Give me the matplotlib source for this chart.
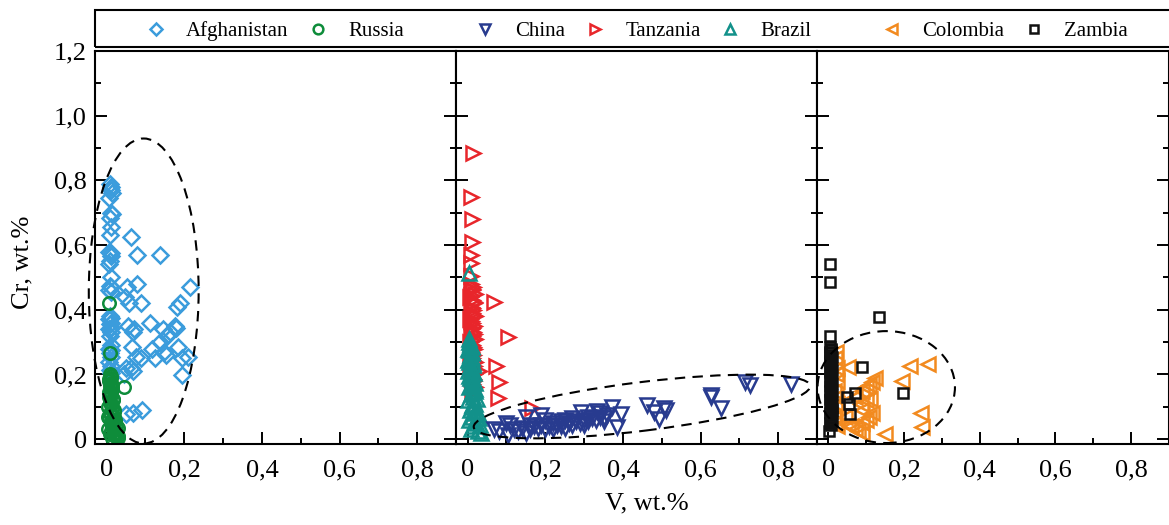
import numpy as np
import matplotlib.pyplot as plt
from matplotlib.patches import Ellipse, Rectangle
from matplotlib.lines import Line2D
from matplotlib.ticker import MultipleLocator, FuncFormatter

plt.rcParams['font.family'] = ['Liberation Serif', 'DejaVu Serif']

# ---- data (V, Cr in wt.%) ----
afg_v = [0.008, 0.012, 0.010, 0.014, 0.006, 0.010, 0.014, 0.008, 0.012, 0.008,
         0.006, 0.010, 0.012, 0.008, 0.006, 0.010, 0.008, 0.012, 0.006, 0.010,
         0.008, 0.012, 0.006, 0.010, 0.008, 0.012, 0.006, 0.010, 0.008, 0.010,
         0.006, 0.012, 0.008, 0.010, 0.006, 0.012, 0.008, 0.010,
         0.064, 0.077, 0.137, 0.052, 0.077, 0.046, 0.057, 0.088, 0.214, 0.190,
         0.180, 0.111, 0.054, 0.070, 0.068, 0.146, 0.175, 0.156, 0.164, 0.178,
         0.137, 0.118, 0.066, 0.147, 0.152, 0.124, 0.183, 0.195, 0.209, 0.088,
         0.075, 0.049, 0.062, 0.069, 0.044, 0.195, 0.049, 0.069, 0.090]
afg_cr = [0.79, 0.78, 0.77, 0.76, 0.745, 0.70, 0.695, 0.685, 0.655, 0.63,
          0.58, 0.575, 0.565, 0.55, 0.54, 0.50, 0.475, 0.47, 0.46, 0.455,
          0.38, 0.375, 0.37, 0.36, 0.355, 0.345, 0.34, 0.33, 0.32, 0.29,
          0.28, 0.275, 0.265, 0.255, 0.24, 0.225, 0.215, 0.205,
          0.625, 0.57, 0.57, 0.47, 0.48, 0.44, 0.42, 0.42, 0.47, 0.42,
          0.41, 0.36, 0.35, 0.34, 0.33, 0.34, 0.35, 0.32, 0.33, 0.345,
          0.30, 0.28, 0.285, 0.27, 0.26, 0.25, 0.285, 0.25, 0.255, 0.25,
          0.255, 0.22, 0.22, 0.21, 0.20, 0.198, 0.078, 0.08, 0.09]

rus_v = [0.005, 0.008, 0.044, 0.008, 0.012, 0.006, 0.010, 0.014, 0.008, 0.012,
         0.006, 0.016, 0.010, 0.004, 0.014, 0.018, 0.008, 0.012, 0.020, 0.006,
         0.016, 0.022, 0.010, 0.025, 0.014, 0.028, 0.004, 0.020, 0.012, 0.026,
         0.008, 0.018, 0.030, 0.015,
         0.010, 0.006, 0.012, 0.008, 0.014, 0.006, 0.010, 0.016, 0.008, 0.012,
         0.018, 0.022, 0.004, 0.024, 0.016, 0.020, 0.026, 0.028, 0.010, 0.022]
rus_cr = [0.42, 0.265, 0.16, 0.20, 0.19, 0.18, 0.17, 0.16, 0.15, 0.14,
          0.13, 0.12, 0.11, 0.10, 0.095, 0.09, 0.08, 0.075, 0.07, 0.065,
          0.06, 0.055, 0.05, 0.045, 0.04, 0.035, 0.03, 0.03, 0.025, 0.02,
          0.015, 0.012, 0.01, 0.005,
          0.195, 0.185, 0.175, 0.165, 0.155, 0.145, 0.135, 0.125, 0.115, 0.105,
          0.085, 0.06, 0.07, 0.04, 0.03, 0.02, 0.015, 0.005, 0.055, 0.01]

tan_v = [0.013, 0.008, 0.010, 0.010, 0.008, 0.008, 0.008, 0.067, 0.104, 0.073,
         0.080, 0.078, 0.166, 0.028,
         0.008, 0.014, 0.010, 0.018, 0.006, 0.012, 0.016, 0.008, 0.014, 0.010,
         0.018, 0.006, 0.012, 0.016, 0.008, 0.014, 0.010, 0.018, 0.006, 0.012,
         0.016, 0.008, 0.014, 0.010, 0.018, 0.006, 0.012, 0.016, 0.008, 0.014,
         0.010, 0.018, 0.012,
         0.012, 0.008, 0.016, 0.010, 0.014, 0.008, 0.012, 0.016, 0.010, 0.014,
         0.008, 0.012, 0.016, 0.010, 0.014, 0.012]
tan_cr = [0.885, 0.75, 0.68, 0.61, 0.57, 0.545, 0.505, 0.425, 0.315, 0.225,
          0.177, 0.127, 0.096, 0.21,
          0.48, 0.47, 0.46, 0.45, 0.44, 0.43, 0.42, 0.41, 0.40, 0.39,
          0.38, 0.37, 0.36, 0.35, 0.34, 0.33, 0.32, 0.31, 0.30, 0.29,
          0.28, 0.27, 0.26, 0.25, 0.24, 0.23, 0.22, 0.20, 0.19, 0.18,
          0.17, 0.16, 0.15,
          0.465, 0.445, 0.425, 0.405, 0.385, 0.365, 0.345, 0.325, 0.305, 0.285,
          0.265, 0.245, 0.225, 0.205, 0.185, 0.165]

bra_v = [0.004, 0.003, 0.004, 0.008, 0.002, 0.010, 0.006, 0.012, 0.004, 0.014,
         0.008, 0.002, 0.012, 0.006, 0.016, 0.010, 0.004, 0.018, 0.008, 0.014,
         0.002, 0.020, 0.012, 0.006, 0.024, 0.016, 0.010, 0.028, 0.004, 0.022,
         0.032, 0.014, 0.008, 0.026, 0.034,
         0.006, 0.010, 0.004, 0.012, 0.008, 0.002, 0.014, 0.006, 0.010, 0.016,
         0.004, 0.012, 0.018, 0.008, 0.020, 0.014, 0.024, 0.010, 0.030, 0.018]
bra_cr = [0.514, 0.31, 0.30, 0.29, 0.28, 0.27, 0.26, 0.25, 0.24, 0.23,
          0.22, 0.21, 0.20, 0.19, 0.18, 0.17, 0.16, 0.15, 0.14, 0.13,
          0.12, 0.11, 0.10, 0.09, 0.085, 0.08, 0.07, 0.065, 0.06, 0.05,
          0.045, 0.04, 0.03, 0.025, 0.02,
          0.295, 0.285, 0.275, 0.265, 0.255, 0.245, 0.235, 0.225, 0.215, 0.205,
          0.195, 0.185, 0.175, 0.165, 0.155, 0.145, 0.125, 0.105, 0.075, 0.055]

chn_v = [0.715, 0.728, 0.834, 0.627, 0.627, 0.653, 0.461, 0.479, 0.505, 0.510,
         0.492, 0.373, 0.394, 0.386, 0.332, 0.293, 0.352, 0.310, 0.189, 0.150,
         0.098, 0.067, 0.080, 0.104,
         0.12, 0.13, 0.14, 0.15, 0.16, 0.17, 0.18, 0.19, 0.20, 0.21,
         0.22, 0.22, 0.23, 0.24, 0.24, 0.25, 0.26, 0.27, 0.28, 0.29,
         0.30, 0.31, 0.32, 0.33, 0.34, 0.35, 0.36, 0.20, 0.25, 0.30,
         0.11, 0.16, 0.27, 0.34]
chn_cr = [0.177, 0.167, 0.170, 0.136, 0.130, 0.096, 0.105, 0.084, 0.096, 0.090,
          0.062, 0.100, 0.077, 0.037, 0.087, 0.084, 0.065, 0.068, 0.074, 0.068,
          0.050, 0.031, 0.025, 0.012,
          0.030, 0.025, 0.035, 0.020, 0.030, 0.040, 0.035, 0.045, 0.030, 0.040,
          0.050, 0.030, 0.045, 0.040, 0.055, 0.035, 0.050, 0.045, 0.055, 0.050,
          0.060, 0.055, 0.065, 0.060, 0.070, 0.055, 0.075, 0.060, 0.060, 0.045,
          0.045, 0.045, 0.065, 0.080]

col_v = [0.053, 0.216, 0.263, 0.195, 0.245, 0.247, 0.150, 0.124, 0.116, 0.108,
         0.100, 0.090, 0.100, 0.086, 0.090, 0.116, 0.107, 0.100, 0.090, 0.053,
         0.060, 0.070, 0.079, 0.090, 0.045, 0.070, 0.110,
         0.018, 0.015, 0.018, 0.016, 0.022, 0.020, 0.024, 0.020, 0.022, 0.018,
         0.024, 0.020]
col_cr = [0.222, 0.226, 0.232, 0.180, 0.080, 0.037, 0.016, 0.190, 0.177, 0.167,
          0.160, 0.150, 0.120, 0.110, 0.090, 0.080, 0.070, 0.060, 0.050, 0.043,
          0.040, 0.030, 0.025, 0.020, 0.070, 0.130, 0.125,
          0.250, 0.150, 0.100, 0.070, 0.220, 0.200, 0.180, 0.130, 0.110, 0.050,
          0.040, 0.270]

zam_v = [0.005, 0.005, 0.134, 0.005, 0.089, 0.071, 0.050, 0.055, 0.058, 0.197,
         0.003,
         0.004, 0.008, 0.005, 0.010, 0.004, 0.008, 0.006, 0.010, 0.004, 0.008,
         0.006, 0.010, 0.004, 0.008, 0.006, 0.010, 0.004, 0.008, 0.006, 0.010,
         0.004, 0.008, 0.006, 0.010, 0.004, 0.008, 0.006, 0.010,
         0.006, 0.004, 0.008, 0.006, 0.004, 0.008, 0.006, 0.004, 0.008, 0.006,
         0.004, 0.008, 0.006, 0.004, 0.008, 0.006, 0.004, 0.008, 0.006, 0.004,
         0.008, 0.006, 0.004]
zam_cr = [0.540, 0.487, 0.378, 0.320, 0.224, 0.142, 0.130, 0.110, 0.078, 0.142,
          0.025,
          0.285, 0.275, 0.265, 0.255, 0.245, 0.235, 0.225, 0.215, 0.205, 0.195,
          0.185, 0.175, 0.165, 0.155, 0.145, 0.135, 0.125, 0.115, 0.105, 0.095,
          0.085, 0.075, 0.065, 0.055, 0.050, 0.045, 0.060, 0.090,
          0.280, 0.270, 0.260, 0.250, 0.240, 0.230, 0.220, 0.210, 0.200, 0.190,
          0.180, 0.170, 0.160, 0.150, 0.140, 0.130, 0.120, 0.110, 0.100, 0.080,
          0.070, 0.060, 0.050]

colors = {'Afghanistan': '#3b9cdc', 'Russia': '#0e8c3a', 'China': '#283b8f',
          'Tanzania': '#e8262b', 'Brazil': '#12918a', 'Colombia': '#f28a1f',
          'Zambia': '#111111'}

W, H = 1169, 525
fig = plt.figure(figsize=(W / 100, H / 100), dpi=100)

bot = 81 / H
hgt = 393 / H
ax1 = fig.add_axes([95 / W, bot, 361 / W, hgt])
ax2 = fig.add_axes([456 / W, bot, 361 / W, hgt])
ax3 = fig.add_axes([817 / W, bot, 352 / W, hgt])
axes = [ax1, ax2, ax3]


def fmt(v, pos):
    if abs(v) < 1e-9:
        return '0'
    return f'{v:.1f}'.replace('.', ',')


for i, ax in enumerate(axes):
    ax.set_xlim(-0.03, 0.9)
    ax.set_ylim(-0.015, 1.2)
    ax.xaxis.set_major_locator(MultipleLocator(0.2))
    ax.xaxis.set_minor_locator(MultipleLocator(0.1))
    ax.yaxis.set_major_locator(MultipleLocator(0.2))
    ax.yaxis.set_minor_locator(MultipleLocator(0.1))
    ax.xaxis.set_major_formatter(FuncFormatter(fmt))
    ax.yaxis.set_major_formatter(FuncFormatter(fmt))
    ax.tick_params(which='both', direction='in', top=False, right=True,
                   width=1.4, labelsize=19)
    ax.tick_params(which='major', length=8.5)
    ax.tick_params(which='minor', length=4.5)
    ax.tick_params(axis='x', pad=11)
    ax.tick_params(axis='y', pad=6)
    if i > 0:
        ax.tick_params(axis='y', labelleft=False)
    for s in ax.spines.values():
        s.set_linewidth(1.5)

mk = dict(linestyle='none', markerfacecolor='none', markeredgewidth=1.8)

ax1.plot(afg_v, afg_cr, marker='D', markersize=8.5, color=colors['Afghanistan'], **mk)
ax1.plot(rus_v, rus_cr, marker='o', markersize=9, color=colors['Russia'], **mk)

ax2.plot(tan_v, tan_cr, marker='>', markersize=9.5, color=colors['Tanzania'], **mk)
ax2.plot(bra_v, bra_cr, marker='^', markersize=9.5, color=colors['Brazil'], **mk)
ax2.plot(chn_v, chn_cr, marker='v', markersize=9.5, color=colors['China'], **mk)

ax3.plot(col_v, col_cr, marker='<', markersize=9.5, color=colors['Colombia'], **mk)
ax3.plot(zam_v, zam_cr, marker='s', markersize=7, color=colors['Zambia'], **mk)

# dashed grouping ellipses
dash = dict(fill=False, edgecolor='black', linewidth=1.5, linestyle=(0, (5, 3.5)),
            clip_on=False, zorder=5)
ax1.add_patch(Ellipse((0.0955, 0.458), 0.283, 0.943, **dash))
ax2.add_patch(Ellipse((0.449, 0.101), 0.876, 0.15, angle=8.5, **dash))
ax3.add_patch(Ellipse((0.153, 0.161), 0.363, 0.346, **dash))

# legend box across the top
fig.patches.append(Rectangle((95 / W, 1 - 47 / H), 1100 / W, 37 / H,
                             transform=fig.transFigure, fill=False,
                             edgecolor='black', linewidth=1.5))


def handle(name, m, ms):
    return Line2D([], [], marker=m, markersize=ms, color=colors[name],
                  label=name, **mk)


groups = [
    (ax1, 275, [handle('Afghanistan', 'D', 6.5), handle('Russia', 'o', 7)]),
    (ax2, 643, [handle('China', 'v', 7.5), handle('Tanzania', '>', 7.5),
                handle('Brazil', '^', 7.5)]),
    (ax3, 1005, [handle('Colombia', '<', 7.5), handle('Zambia', 's', 5.5)]),
]
for ax, xc, hs in groups:
    ax.legend(handles=hs, loc='center', bbox_to_anchor=(xc / W, 1 - 31 / H),
              bbox_transform=fig.transFigure, ncol=len(hs), frameon=False,
              fontsize=15, handlelength=1.0, handletextpad=0.95,
              columnspacing=0.93, borderpad=0, borderaxespad=0)

fig.text(22 / W, 1 - 262 / H, 'Cr, wt.%', rotation=90, ha='center', va='center',
         fontsize=19)
fig.text(647 / W, 1 - 503 / H, 'V, wt.%', ha='center', va='center', fontsize=19)

fig.savefig('out.png', dpi=100)
